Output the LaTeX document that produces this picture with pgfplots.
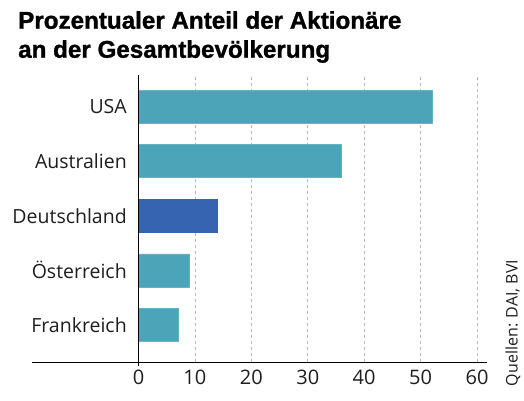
\documentclass[border=0pt]{standalone}
\usepackage{pgfplots}
\pgfplotsset{compat=1.18}
\usepackage{fontspec}
\setmainfont{Open Sans}
\newfontfamily\titlefont{Liberation Sans}[BoldFont={Liberation Sans Bold}, BoldFeatures={FakeBold=1.2}]
\definecolor{teal}{HTML}{4BA4B7}
\definecolor{dblue}{HTML}{3664B0}
\definecolor{txt}{HTML}{1E1E1E}
\tikzset{lab/.style={anchor=east, inner sep=0pt, text=txt, font=\fontsize{19.5}{19.5}\selectfont}}
\begin{document}
\begin{tikzpicture}
\path[use as bounding box] (0pt,0pt) rectangle (524pt,-400pt);
\node[anchor=north west, align=left, inner sep=0pt, text=black,
      font=\titlefont\bfseries\fontsize{24.2}{29}\selectfont] at (18pt,-11pt)
  {Prozentualer Anteil der Aktionäre\\an der Gesamtbevölkerung};
\begin{axis}[
  at={(32pt,-362pt)}, anchor=south west,
  scale only axis, width=455pt, height=287pt,
  xmin=-18.88, xmax=61.77,
  ymin=-0.678, ymax=4.577,
  axis x line*=bottom, axis y line=none,
  x axis line style={black, line width=0.8pt},
  xtick={0,10,20,30,40,50,60},
  ytick=\empty,
  major tick length=0pt,
  xmajorgrids,
  grid style={dashed, gray!55, line width=0.7pt},
  /pgf/number format/assume math mode=true,
  xticklabel style={font=\fontsize{20}{20}\selectfont, text=txt, yshift=-4pt},
  xbar, bar width=33pt, bar shift=0pt,
  clip=false,
]
\addplot[fill=teal, draw=teal!85!white] coordinates {(52,4) (36,3) (9,1) (7.1,0)};
\addplot[fill=dblue, draw=dblue] coordinates {(14,2)};
\draw[black, line width=0.8pt] (axis cs:0,4.577) -- (axis cs:0,-0.75);
\node[lab] at (axis cs:-2.05,4) {USA};
\node[lab] at (axis cs:-2.05,3) {Australien};
\node[lab] at (axis cs:-2.05,2) {Deutschland};
\node[lab] at (axis cs:-2.05,1) {Österreich};
\node[lab] at (axis cs:-2.05,0) {Frankreich};
\end{axis}
\node[rotate=90, anchor=center, inner sep=0pt, text=txt, font=\fontsize{16}{16}\selectfont] at (513pt,-323pt) {Quellen: DAI, BVI};
\end{tikzpicture}
\end{document}
